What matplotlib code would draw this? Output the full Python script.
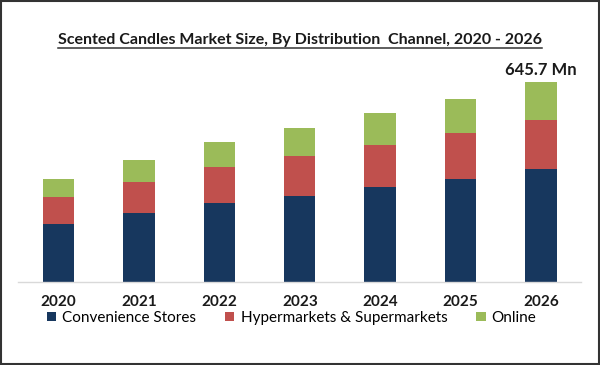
import numpy as np
import matplotlib
matplotlib.use('Agg')
import matplotlib.pyplot as plt
from matplotlib.patches import Patch, Rectangle
from matplotlib.lines import Line2D

plt.rcParams['font.family'] = ['Lato', 'DejaVu Sans']

years = ['2020', '2021', '2022', '2023', '2024', '2025', '2026']
convenience = [186.8, 222.4, 252.7, 277.3, 304.4, 331.3, 363.6]
hypermarkets = [85.6, 99.2, 116.4, 129.3, 136.7, 147.7, 158.4]
online = [59.1, 72.1, 80.8, 90.5, 102.4, 111.8, 123.7]
series_names = ['Convenience Stores', 'Hypermarkets & Supermarkets', 'Online']
colors = ['#17375E', '#C0504D', '#9BBB59']
total_label = '645.7 Mn'

fig = plt.figure(figsize=(6.0, 3.65), dpi=100)
ax = fig.add_axes([18.3 / 600, 1 - 281.5 / 365, (581.2 - 18.3) / 600, 216.6 / 365])

x = np.arange(len(years))
w = 0.39
bottom = np.zeros(len(years))
for vals, c in zip([convenience, hypermarkets, online], colors):
    ax.bar(x, vals, w, bottom=bottom, color=c, zorder=2)
    bottom = bottom + np.array(vals)

ax.set_xlim(-0.5, len(years) - 0.5)
ax.set_ylim(0, 700)
for s in ['top', 'right', 'left']:
    ax.spines[s].set_visible(False)
ax.spines['bottom'].set_color('#D9D9D9')
ax.spines['bottom'].set_linewidth(1.0)
ax.set_yticks([])
ax.set_xticks(x)
ax.set_xticklabels(years, fontsize=11, fontweight='bold', color='#1a1a1a')
ax.tick_params(axis='x', length=0, pad=10)

ax.text(x[-1], bottom[-1] + 12, total_label, ha='center', va='bottom',
        fontsize=12, fontweight='bold', color='#1a1a1a')

# title with underline
title = fig.text(0.5, 1 - 40 / 365, 'Scented Candles Market Size, By Distribution  Channel, 2020 - 2026',
                 ha='center', va='center', fontsize=11.5, fontweight='bold', color='#1a1a1a')
fig.canvas.draw()
bb = title.get_window_extent(fig.canvas.get_renderer())
yl = (bb.y0 - 1) / fig.bbox.height
fig.add_artist(Line2D([bb.x0 / fig.bbox.width, bb.x1 / fig.bbox.width], [yl, yl],
                      color='#333333', lw=1.1))

handles = [Patch(facecolor=c, edgecolor='none') for c in colors]
fig.legend(handles, series_names, loc='center left', bbox_to_anchor=(47 / 600, 1 - 318 / 365),
           ncol=3, frameon=False, fontsize=11, handlelength=0.6, handleheight=0.6,
           handletextpad=0.4, columnspacing=1.9, borderaxespad=0, borderpad=0)

fig.add_artist(Rectangle((0.001, 0.002), 0.997, 0.995, transform=fig.transFigure,
                         fill=False, edgecolor='#333333', lw=1.5))

fig.savefig('out.png', dpi=100)
